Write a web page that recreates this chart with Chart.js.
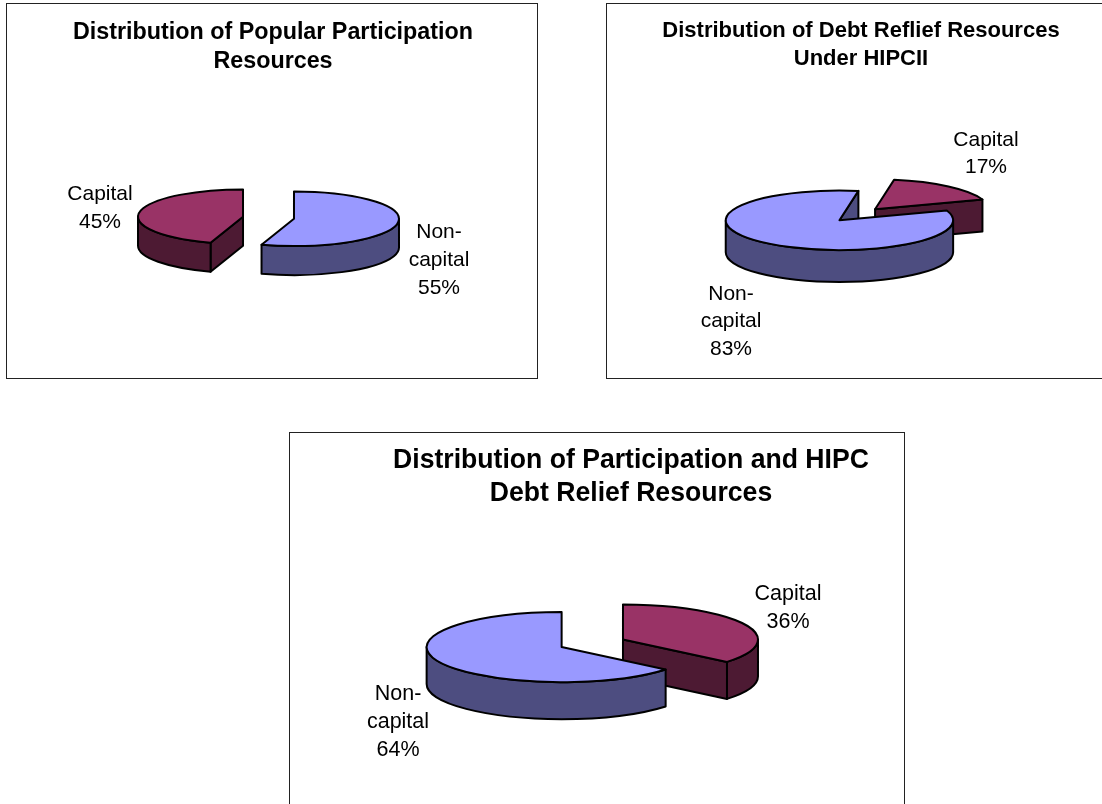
<!DOCTYPE html>
<html><head><meta charset="utf-8">
<style>
html,body{margin:0;padding:0;background:#fff;width:1102px;height:804px;overflow:hidden}
.frame{position:absolute;border:1px solid #222;background:#fff}
canvas{display:block}
</style>
<script src="https://cdn.jsdelivr.net/npm/chart.js@4/dist/chart.umd.min.js"></script>
</head><body>
<div class="frame" style="left:6px;top:3px;width:530px;height:374px"><canvas id="popular" width="530" height="374"></canvas></div>
<div class="frame" style="left:606px;top:3px;width:530px;height:374px"><canvas id="debt" width="530" height="374"></canvas></div>
<div class="frame" style="left:289px;top:432px;width:614px;height:380px"><canvas id="combined" width="614" height="380"></canvas></div>
<script>
const categories = ["Capital", "Non-capital"];
const labelLines = [["Capital"], ["Non-", "capital"]];
const popularValues = [45, 55];
const debtValues = [17, 83];
const combinedValues = [36, 64];
const popularTitle = ["Distribution of Popular Participation", "Resources"];
const debtTitle = ["Distribution of Debt Reflief Resources", "Under HIPCII"];
const combinedTitle = ["Distribution of Participation and HIPC", "Debt Relief Resources"];
const topColors = ["#993366", "#9999ff"];
const wallColors = ["#4d1a33", "#4d4d80"];

const FONT = '"Liberation Sans", Arial, sans-serif';
const layouts = {
  popular: {origin:[7,4], center:[268.5,217.75], radius:105, tilt:.26, depth:29, rotation:198, explode:25.8,
    titleSize:23.3, titleLine:29, titleTop:14, titleShift:1, titleScale:1, labelSize:21, labelLine:28,
    spots:[[100,194],[439,232]]},
  debt: {origin:[607,4], center:[857.25,214.75], radius:113.7, tilt:.262, depth:32, rotation:9.6, explode:27.6,
    titleSize:22, titleLine:28, titleTop:13, titleShift:-11, titleScale:1, labelSize:21, labelLine:27.5,
    spots:[[986,140],[731,294]]},
  combined: {origin:[290,433], center:[592.3,643.3], radius:135, tilt:.26, depth:37, rotation:0, explode:33.9,
    titleSize:28, titleLine:33, titleTop:11, titleShift:34, titleScale:.95, labelSize:21.5, labelLine:28,
    spots:[[788,594],[398,694]]}
};

class Pie3DController extends Chart.PieController {
  draw() {
    const ctx = this.chart.ctx, L = layouts[this.chart.canvas.id];
    const arcs = this._cachedMeta.data;
    const cx = L.center[0] - L.origin[0], cy = L.center[1] - L.origin[1], k = L.tilt;
    arcs.forEach((arc, i) => {
      const s = arc.startAngle, e = arc.endAngle, r = arc.outerRadius, mid = (s + e) / 2;
      const X = cx + Math.cos(mid) * L.explode, Y = cy + Math.sin(mid) * L.explode * k, d = L.depth;
      const px = t => X + r * Math.cos(t), py = t => Y + r * k * Math.sin(t);
      ctx.save();
      ctx.lineWidth = 2; ctx.strokeStyle = '#000'; ctx.lineJoin = 'round'; ctx.fillStyle = wallColors[i];
      const paint = () => { ctx.fill(); ctx.stroke(); };
      const face = t => {
        ctx.beginPath(); ctx.moveTo(X, Y); ctx.lineTo(px(t), py(t));
        ctx.lineTo(px(t), py(t) + d); ctx.lineTo(X, Y + d); ctx.closePath(); paint();
      };
      if (Math.cos(s) < -1e-6) face(s);
      if (Math.cos(e) > 1e-6) face(e);
      for (let n = -1; n <= 1; n++) {
        const a = Math.max(s, 2 * Math.PI * n), b = Math.min(e, Math.PI + 2 * Math.PI * n);
        if (b > a) {
          ctx.beginPath();
          ctx.ellipse(X, Y, r, r * k, 0, a, b);
          ctx.lineTo(px(b), py(b) + d);
          ctx.ellipse(X, Y + d, r, r * k, 0, b, a, true);
          ctx.closePath(); paint();
        }
      }
      ctx.save();
      ctx.translate(X, Y); ctx.scale(1, k); ctx.translate(-arc.x, -arc.y);
      arc.draw(ctx, this.chart.chartArea);
      ctx.restore();
      ctx.beginPath(); ctx.moveTo(X, Y); ctx.ellipse(X, Y, r, r * k, 0, s, e); ctx.closePath(); ctx.stroke();
      ctx.restore();
    });
  }
}
Pie3DController.id = 'pie3d';
Pie3DController.defaults = {};
Chart.register(Pie3DController);

const framePlugin = {
  id: 'frameText',
  beforeDraw(chart) {
    const L = layouts[chart.canvas.id], t = chart.titleBlock, x = (t.left + t.right) / 2;
    chart.ctx.save(); chart.ctx.translate(x, 0); chart.ctx.scale(L.titleScale, 1); chart.ctx.translate(-x, 0);
  },
  beforeDatasetsDraw(chart) { chart.ctx.restore(); },
  afterDraw(chart) {
    const L = layouts[chart.canvas.id], ctx = chart.ctx, vals = chart.data.datasets[0].data;
    ctx.save();
    ctx.font = L.labelSize + 'px ' + FONT; ctx.fillStyle = '#000'; ctx.textAlign = 'center'; ctx.textBaseline = 'middle';
    vals.forEach((v, i) => {
      [...labelLines[i], v + '%'].forEach((line, j) => {
        ctx.fillText(line, L.spots[i][0] - L.origin[0], L.spots[i][1] - L.origin[1] + j * L.labelLine);
      });
    });
    ctx.restore();
  }
};

function build(id, values, title) {
  const L = layouts[id];
  new Chart(document.getElementById(id), {
    type: 'pie3d',
    data: { labels: categories, datasets: [{ data: values, backgroundColor: topColors, borderWidth: 0, radius: L.radius }] },
    options: {
      responsive: false, animation: false, rotation: L.rotation, radius: L.radius,
      layout: { padding: { left: Math.max(L.titleShift, 0) * 2, right: Math.max(-L.titleShift, 0) * 2 } },
      plugins: {
        legend: { display: false }, tooltip: { enabled: false },
        title: { display: true, text: title, color: '#000', padding: { top: L.titleTop, bottom: 0 },
          font: { family: FONT, size: L.titleSize, weight: 'bold', lineHeight: L.titleLine / L.titleSize } }
      }
    },
    plugins: [framePlugin]
  });
}
build('popular', popularValues, popularTitle);
build('debt', debtValues, debtTitle);
build('combined', combinedValues, combinedTitle);
</script>
</body></html>
